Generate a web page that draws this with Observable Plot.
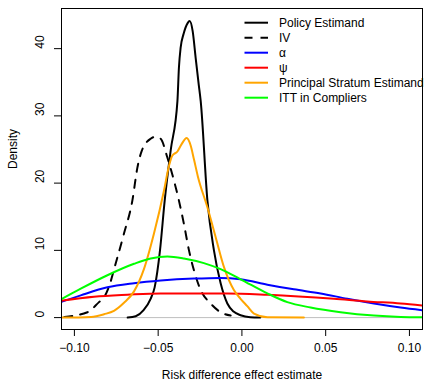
<!DOCTYPE html>
<html>
<head>
<meta charset="utf-8">
<script src="https://cdn.jsdelivr.net/npm/d3@7"></script>
<script src="https://cdn.jsdelivr.net/npm/@observablehq/plot@0.6"></script>
<style>
  html, body { margin: 0; padding: 0; background: white; }
  svg { display: block; }
</style>
</head>
<body>
<div id="chart"></div>
<script>
// ---- Data ----
const seriesNames = ["Policy Estimand", "IV", "\u03b1", "\u03c8", "Principal Stratum Estimand", "ITT in Compliers"];
const seriesColors = ["black", "black", "#0000ff", "#ff0000", "#ffa500", "#00ff00"];
const seriesDash = [null, "8,8", null, null, null, null];

const policyX = [-0.0682, -0.0634, -0.0587, -0.0545, -0.0521, -0.0489, -0.0461, -0.0425, -0.0385, -0.0376, -0.0366, -0.0348, -0.0324, -0.0312, -0.0294, -0.0276, -0.0258, -0.0246, -0.0206, -0.0167, -0.0127, -0.0087, -0.0050, -0.0008, 0.0050, 0.0110];
const policyY = [0.0, 0.2, 1.1, 2.8, 4.5, 10.0, 17.4, 24.9, 32.2, 37.2, 40.1, 42.2, 43.8, 44.1, 42.6, 38.6, 34.7, 32.2, 17.4, 10.0, 5.1, 2.1, 0.9, 0.35, 0.05, 0.0];

const ivX = [-0.1060, -0.0922, -0.0853, -0.0823, -0.0795, -0.0754, -0.0704, -0.0654, -0.0624, -0.0598, -0.0545, -0.0515, -0.0485, -0.0445, -0.0406, -0.0376, -0.0346, -0.0316, -0.0286, -0.0246, -0.0187, -0.0127, -0.0067];
const ivY = [0.1, 0.8, 2.3, 3.0, 4.5, 8.0, 12.5, 17.4, 22.3, 24.8, 26.6, 26.9, 26.6, 23.8, 20.4, 17.4, 13.9, 10.0, 7.0, 4.1, 2.1, 0.8, 0.3];

const alphaX = [-0.1081, -0.0962, -0.0803, -0.0644, -0.0485, -0.0286, -0.0127, -0.0008, 0.0152, 0.0310, 0.0470, 0.0629, 0.0788, 0.0947, 0.1078];
const alphaY = [2.3, 3.3, 4.5, 5.1, 5.5, 5.8, 5.9, 5.7, 4.9, 4.2, 3.6, 2.8, 2.1, 1.5, 1.1];

const psiX = [-0.1081, -0.0883, -0.0684, -0.0485, -0.0286, -0.0087, 0.0152, 0.0549, 0.0748, 0.0947, 0.1078];
const psiY = [2.5, 3.1, 3.4, 3.6, 3.6, 3.6, 3.4, 2.8, 2.4, 2.1, 1.8];

const stratumX = [-0.1081, -0.0900, -0.0823, -0.0764, -0.0704, -0.0644, -0.0585, -0.0525, -0.0465, -0.0436, -0.0415, -0.0385, -0.0360, -0.0330, -0.0306, -0.0286, -0.0263, -0.0206, -0.0157, -0.0107, -0.0048, -0.0008, 0.0032, 0.0072, 0.0152, 0.0370];
const stratumY = [0.0, 0.1, 0.5, 1.0, 2.2, 3.9, 7.2, 12.5, 18.9, 22.5, 24.1, 24.7, 25.8, 26.7, 25.6, 23.5, 21.0, 16.4, 12.0, 7.5, 4.1, 2.8, 1.7, 0.6, 0.05, 0.0];

const ittX = [-0.1081, -0.0962, -0.0803, -0.0644, -0.0545, -0.0445, -0.0346, -0.0227, -0.0127, -0.0008, 0.0152, 0.0271, 0.0410, 0.0589, 0.0788, 0.0947, 0.1078];
const ittY = [2.7, 4.3, 6.3, 8.0, 8.8, 9.1, 8.8, 8.1, 7.2, 5.7, 3.6, 2.3, 1.5, 0.8, 0.3, 0.1, 0.05];

const xTicks = [-0.10, -0.05, 0.00, 0.05, 0.10];
const xTickLabels = ["\u22120.10", "\u22120.05", "0.00", "0.05", "0.10"];
const yTicks = [0, 10, 20, 30, 40];
const xTitle = "Risk difference effect estimate";
const yTitle = "Density";

// ---- Build table ----
const allX = [policyX, ivX, alphaX, psiX, stratumX, ittX];
const allY = [policyY, ivY, alphaY, psiY, stratumY, ittY];
const series = seriesNames.map((name, i) => ({
  name, color: seriesColors[i], dash: seriesDash[i],
  rows: allX[i].map((x, j) => ({x, y: allY[i][j]}))
}));

const FONT = "'Liberation Sans', Arial, Helvetica, sans-serif";

const plot = Plot.plot({
  width: 425,
  height: 382,
  marginLeft: 61,
  marginRight: 3,
  marginTop: 8,
  marginBottom: 53,
  style: {fontFamily: FONT, fontSize: "12px", background: "white", color: "black"},
  x: {domain: [-0.1077, 0.1078]},
  y: {domain: [-1.77, 45.97]},
  marks: [
    Plot.ruleY([0], {stroke: "#bebebe", strokeWidth: 1, clip: "frame"}),
    ...series.map(s => Plot.line(s.rows, {
      x: "x", y: "y", stroke: s.color, strokeWidth: 2,
      strokeDasharray: s.dash ?? undefined,
      curve: "monotone-x", clip: "frame"
    })),
    Plot.frame({stroke: "black", strokeWidth: 1}),
    Plot.axisX({ticks: xTicks, tickSize: 7, tickFormat: () => "", label: null}),
    Plot.axisY({ticks: yTicks, tickSize: 7, tickFormat: () => "", label: null}),
    Plot.text(xTicks, {x: d => d, text: (d, i) => xTickLabels[i], frameAnchor: "bottom", dy: 22, fontSize: 12, fill: "black"}),
    Plot.text(yTicks, {y: d => d, text: d => String(d), frameAnchor: "left", dx: -21, rotate: -90, fontSize: 12, fill: "black"}),
    Plot.text([xTitle], {text: d => d, frameAnchor: "bottom", dy: 49, fontSize: 12, fill: "black"}),
    Plot.text([yTitle], {text: d => d, frameAnchor: "left", dx: -48, rotate: -90, fontSize: 12, fill: "black"})
  ]
});

// ---- Legend (top right, no box) ----
const svg = d3.select(plot);
const lg = svg.append("g")
  .attr("font-family", FONT).attr("font-size", 12)
  .attr("text-anchor", "start");
series.forEach((s, i) => {
  const y = 22.7 + i * 15;
  lg.append("line")
    .attr("x1", 244.5).attr("x2", 268).attr("y1", y).attr("y2", y)
    .attr("stroke", s.color).attr("stroke-width", 2)
    .attr("stroke-dasharray", s.dash);
  lg.append("text")
    .attr("x", 279).attr("y", y).attr("dy", "0.35em")
    .attr("text-anchor", "start")
    .attr("fill", "black")
    .text(s.name);
});

document.getElementById("chart").appendChild(plot);
</script>
</body>
</html>
